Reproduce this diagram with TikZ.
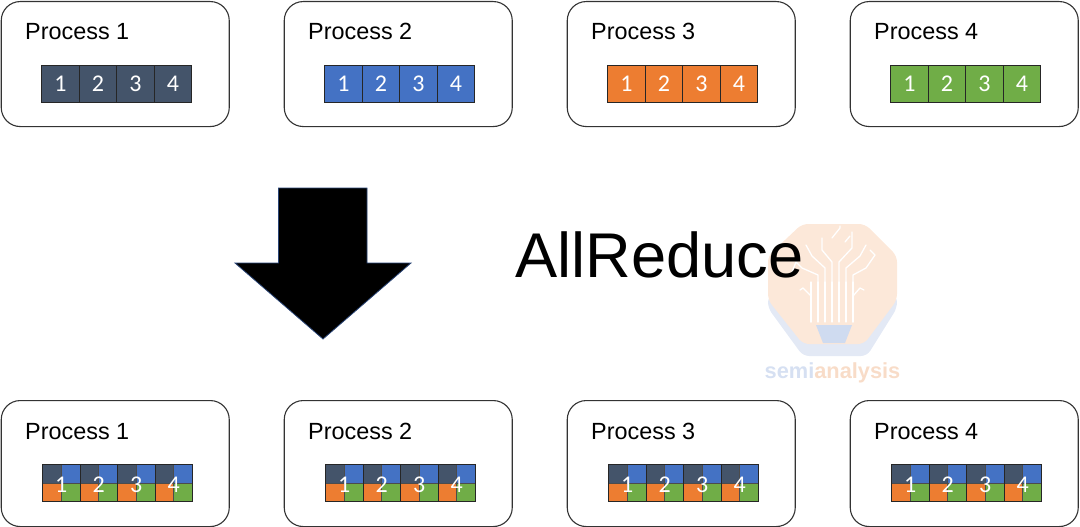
\documentclass[tikz,border=0pt]{standalone}
\usepackage{fontspec}
\setmainfont{Liberation Sans}
\newfontfamily\digitfont{Carlito}
\definecolor{cdark}{HTML}{44546A}
\definecolor{cblue}{HTML}{4472C4}
\definecolor{corange}{HTML}{ED7D31}
\definecolor{cgreen}{HTML}{70AD47}
\definecolor{wmorange}{HTML}{FCE8D9}
\definecolor{wmblue}{HTML}{E3E9F5}
\definecolor{wmpot}{HTML}{CFDBF0}
\definecolor{wmtext}{HTML}{F8DCC8}
\definecolor{wmtextb}{HTML}{D6E0F2}
\tikzset{
  procbox/.style={draw=black!80,line width=1.1pt,fill=white,rounded corners=19pt},
  proclabel/.style={anchor=base west,inner sep=0pt,font=\fontsize{23.4}{24}\selectfont},
  cell/.style={draw=black!85,line width=0.9pt},
  halfcell/.style={draw=black!70,line width=0.6pt},
  digit/.style={text=white,inner sep=0pt,font=\digitfont\fontsize{24}{25}\selectfont},
  wmline/.style={draw=white,line width=1.3pt,line cap=round,line join=round},
}
\begin{document}
\begin{tikzpicture}[x=1pt,y=-1pt]
\useasboundingbox (0,0) rectangle (1080,527);
% watermark
\fill[wmblue,rounded corners=6pt] (768,296) -- (768,308) -- (803,356) -- (867,356) -- (897,308) -- (897,296) -- cycle;
\fill[wmorange,rounded corners=6pt] (802,224) -- (865,224) -- (897,256) -- (897,300) -- (864,344) -- (803,344) -- (768,300) -- (768,256) -- cycle;
\fill[wmpot] (816,325) -- (852,325) -- (845,343) -- (823,343) -- cycle;
\foreach \x in {811,818,825,832,839,846,853}
  \draw[wmline] (\x,322) -- (\x,282);
\draw[wmline] (832,282) -- (832,262) -- (822,250) -- (822,238);
\draw[wmline] (839,282) -- (839,262) -- (852,248) -- (852,232);
\draw[wmline] (825,282) -- (825,268) -- (812,256) -- (806,245);
\draw[wmline] (846,282) -- (846,268) -- (860,256) -- (866,245);
\draw[wmline] (818,282) -- (818,275) -- (802,268) -- (796,262) -- (792,272);
\draw[wmline] (853,282) -- (853,275) -- (866,268) -- (875,255) -- (870,250);
\draw[wmline] (811,322) -- (811,296) -- (803,288) -- (800,290);
\draw[wmline] (853,322) -- (853,296) -- (860,288) -- (864,290);
\draw[wmline] (832,238) -- (840,228) -- (840,226);
\draw[wmline] (845,242) -- (850,236);
\node[inner sep=0pt,anchor=base,font=\bfseries\fontsize{21.8}{23}\selectfont] (wm) at (832.5,378)
  {\textcolor{wmtextb}{semi}\textcolor{wmtext}{analysis}};
% processes
\foreach \n/\dx in {1/0,2/283,3/566,4/849}{
  \node[procbox,minimum width=228pt,minimum height=125pt,inner sep=0pt,anchor=north west] (top\n) at (0.7+\dx,1) {};
  \node[proclabel] (toplabel\n) at (25+\dx,39.5) {Process \n};
  \node[procbox,minimum width=228pt,minimum height=126pt,inner sep=0pt,anchor=north west] (bot\n) at (0.7+\dx,400) {};
  \node[proclabel] (botlabel\n) at (25+\dx,439) {Process \n};
}
% top cells
\foreach \p/\dx/\c in {1/0/cdark,2/283/cblue,3/566/corange,4/849/cgreen}{
  \foreach \i in {1,2,3,4}{
    \pgfmathsetmacro{\xa}{41.7+\dx+37.5*(\i-1)}
    \draw[cell,fill=\c] (\xa,65) rectangle (\xa+37.5,102);
    \node[digit] (td\p\i) at (\xa+18.75,84) {\i};
  }
}
% bottom cells
\foreach \p/\dx in {1/0,2/283,3/566,4/849}{
  \foreach \i in {1,2,3,4}{
    \pgfmathsetmacro{\xa}{42.5+\dx+37.5*(\i-1)}
    \fill[cdark] (\xa,464.5) rectangle (\xa+18.75,483);
    \fill[cblue] (\xa+18.75,464.5) rectangle (\xa+37.5,483);
    \fill[corange] (\xa,483) rectangle (\xa+18.75,501.5);
    \fill[cgreen] (\xa+18.75,483) rectangle (\xa+37.5,501.5);
    \draw[halfcell] (\xa,483) -- (\xa+37.5,483);
    \draw[halfcell] (\xa+18.75,464.5) -- (\xa+18.75,501.5);
    \draw[cell] (\xa,464.5) rectangle (\xa+37.5,501.5);
    \node[digit] (bd\p\i) at (\xa+18.75,485) {\i};
  }
}
% arrow
\draw[draw=cblue!60!black,line width=0.8pt,fill=black,line join=miter]
  (278.5,188) -- (367,188) -- (367,263) -- (411,263) -- (323,339) -- (235,263) -- (278.5,263) -- cycle;
\node[anchor=base west,inner sep=0pt,font=\fontsize{63.2}{65}\selectfont] (allreduce) at (515,277) {AllReduce};
\end{tikzpicture}
\end{document}
